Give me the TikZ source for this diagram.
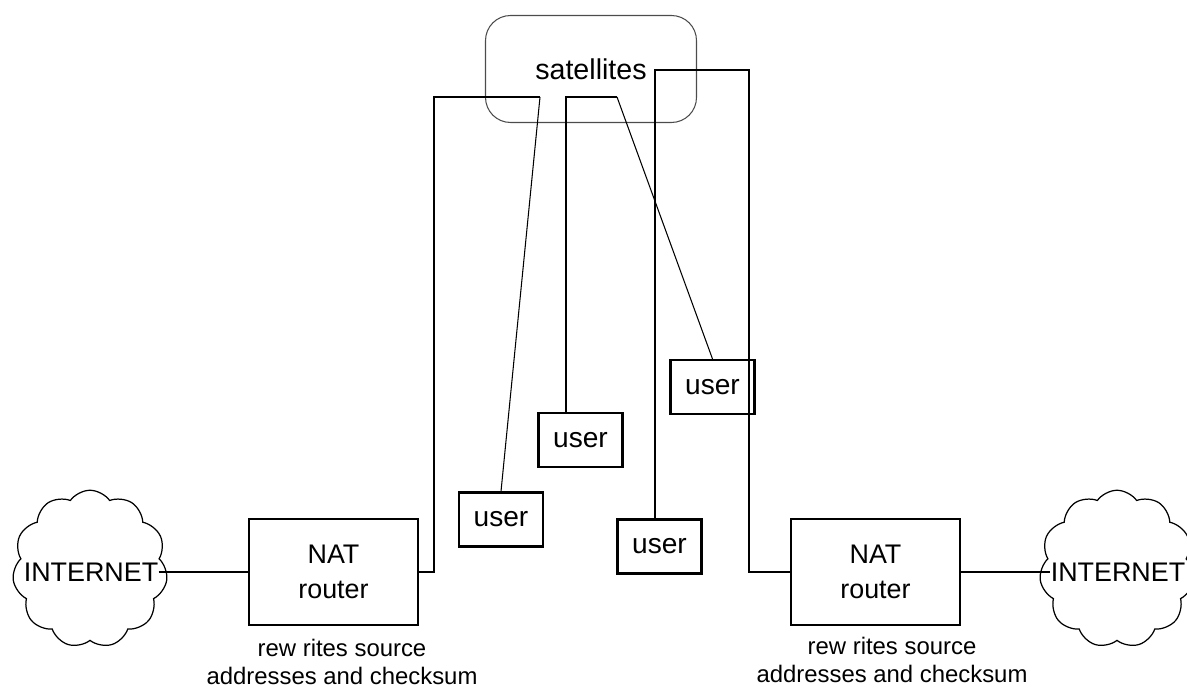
\documentclass[tikz,border=0pt]{standalone}
\usepackage{fontspec}
\setmainfont{Liberation Sans}
\usetikzlibrary{shapes.symbols,positioning}

\tikzset{
  box/.style={draw, line width=1.2pt, align=center, font=\fontsize{15.3}{20}\selectfont},
  userbox/.style={box, minimum width=1.68cm, minimum height=1.08cm, inner sep=0pt,
    font=\fontsize{16}{20}\selectfont},
  natbox/.style={box, minimum width=3.38cm, minimum height=2.12cm, inner sep=0pt},
  puff/.style={draw, cloud, cloud puffs=11, cloud puff arc=110, aspect=1, line width=0.7pt,
    minimum width=3.1cm, minimum height=3.15cm},
  link/.style={line width=1.2pt},
  thinlink/.style={line width=0.6pt},
  note/.style={align=center, font=\fontsize{13.6}{16}\selectfont}
}

\begin{document}
\begin{tikzpicture}[x=0.02cm, y=-0.02cm]
\useasboundingbox (0,0) rectangle (1187,688);
\clip (0,0) rectangle (1187,688);

% the satellite link
\node[draw=black!70, line width=0.6pt, rounded corners=0.5cm, minimum width=4.22cm,
  minimum height=2.14cm, font=\fontsize{16.3}{20}\selectfont] (sat) at (591,69) {satellites};

\node[puff] (cloudL) at (90,569) {};
\node[puff] (cloudR) at (1117,569) {};
\node[font=\fontsize{15.3}{20}\selectfont, inner sep=0pt] (inetL) at (91,572) {INTERNET};
\node[font=\fontsize{15.3}{20}\selectfont, inner sep=0pt] (inetR) at (1118,572) {INTERNET};

\node[natbox] (natL) at (333.5,572) {NAT\\router};
\node[natbox] (natR) at (875.5,572) {NAT\\router};
\node[note] (noteL) at (342,662) {rew rites source\\addresses and checksum};
\node[note] (noteR) at (892,660) {rew rites source\\addresses and checksum};

\node[userbox] (userA) at (501,519.5) {user};
\node[userbox] (userB) at (580.5,440) {user};
\node[userbox] (userC) at (659.5,546.5) {user};
\node[userbox] (userD) at (712.5,387) {user};

\coordinate (satA) at (540,97);
\coordinate (satB) at (566,97);
\coordinate (satC) at (617,97);
\coordinate (satD) at (655,70);
\coordinate (satE) at (749,70);

\draw[link] (inetL.east) -- (natL.west);
\draw[link] (natR.east) -- (inetR.west);
\draw[link] (natL.east) -- ++(15,0) |- (satA);
\draw[thinlink] (satA) -- (userA.north);
\draw[link] (userB.north -| satB) -- (satB) -- (satC);
\draw[thinlink] (satC) -- (userD.north);
\draw[link] (userC.north -| satD) -- (satD) -- (satE) |- (natR.west);
\end{tikzpicture}
\end{document}
